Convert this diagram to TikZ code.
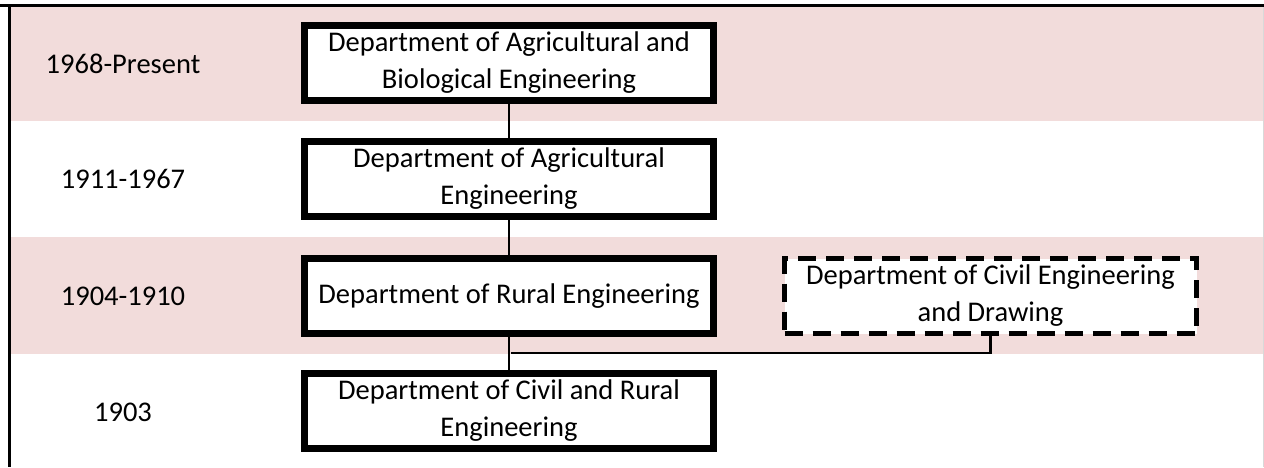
\documentclass[tikz,border=0pt]{standalone}
\usepackage{fontspec}
\setmainfont{Carlito}
\usepackage{tikz}
\usetikzlibrary{positioning}
\definecolor{bandpink}{RGB}{242,220,219}

\begin{document}
\begin{tikzpicture}[x=1pt, y=-1pt,
    dept/.style={draw, line width=7pt, fill=white, minimum width=409pt, minimum height=75pt,
                 align=center, inner sep=1pt, font=\fontsize{28.5}{37}\selectfont},
    deptdash/.style={dept, line width=5pt, minimum width=412pt, dash pattern=on 18pt off 10pt},
    yearlbl/.style={font=\fontsize{28.5}{37}\selectfont},
    link/.style={line width=2.6pt}]
            \useasboundingbox (0,0) rectangle (1264,467);
            % bands
            \fill[bandpink] (11,7) rectangle (1263,121);
            \fill[bandpink] (11,237) rectangle (1263,354);
            \draw[line width=3pt] (0,5.5) -- (1264,5.5);
            \draw[line width=3pt] (9.5,4) -- (9.5,467);
            \draw[gray!30, line width=1pt] (1263.5,7) -- (1263.5,467);
            % years
            \draw (123,64) node[yearlbl]                  (y1) {1968-Present};
            \draw (123,179) node[yearlbl]                 (y2) {1911-1967};
            \draw (123,296) node[yearlbl]                 (y3) {1904-1910};
            \draw (123,412) node[yearlbl]                 (y4) {1903};
            % departments
            \draw (509,63) node[dept]                     (ab) {Department of Agricultural and\\Biological Engineering};
            \draw (509,179) node[dept]                    (ag) {Department of Agricultural\\Engineering};
            \draw (509,296) node[dept]                    (ru) {Department of Rural Engineering};
            \draw (509,411) node[dept]                    (cr) {Department of Civil and Rural\\Engineering};
            \draw (990.5,296) node[deptdash]              (cd) {Department of Civil Engineering\\and Drawing};
            \coordinate (jn) at (511,353);
            \draw[link] (ab) -- (ag);
            \draw[link] (ag) -- (ru);
            \draw[link] (ru) -- (cr);
            \draw[link] (jn) -| (cd);
\end{tikzpicture}
\end{document}
